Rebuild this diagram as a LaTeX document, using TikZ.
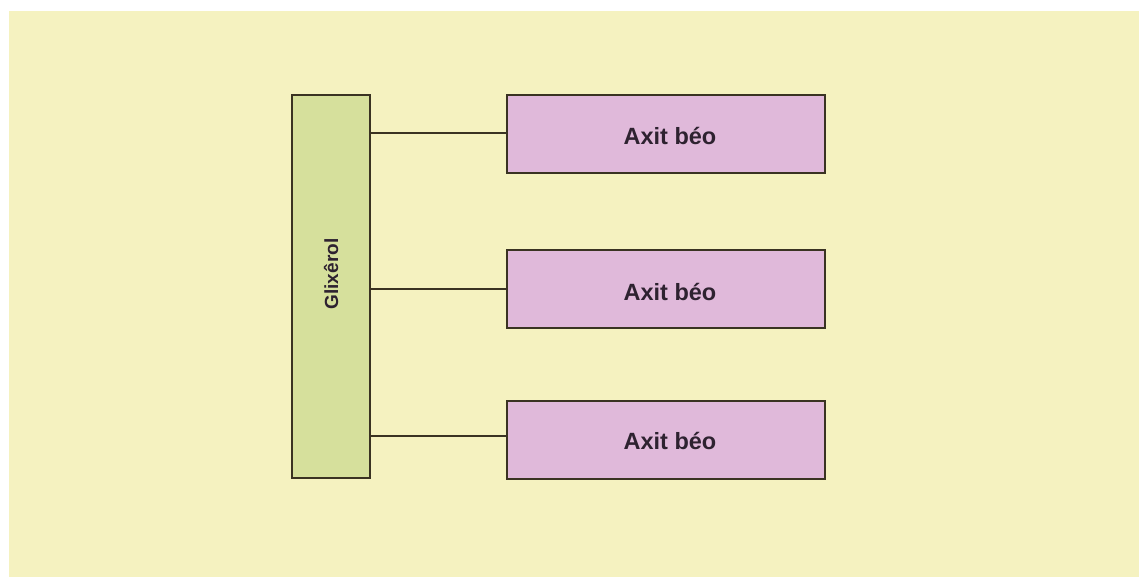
\documentclass[tikz,border=0pt]{standalone}
\usepackage{fontspec}
\setmainfont{Liberation Sans}
\definecolor{bgyellow}{HTML}{F5F2C0}
\definecolor{glyfill}{HTML}{D6E09C}
\definecolor{acidfill}{HTML}{E0B9DA}
\definecolor{edge}{HTML}{3A3322}
\definecolor{txt}{HTML}{2E2230}
\tikzset{
  x=1pt, y=-1pt,
  box/.style={draw=edge, line width=2.6pt, inner sep=0pt, text=txt},
  glybox/.style={box, fill=glyfill, minimum width=78pt, minimum height=383pt},
  acidbox/.style={box, fill=acidfill, minimum width=318pt, minimum height=78pt},
  acidtext/.style={text=txt, font=\bfseries\fontsize{23.5}{27}\selectfont},
  link/.style={draw=edge, line width=2.6pt}
}
\begin{document}
\begin{tikzpicture}
\useasboundingbox (0,0) rectangle (1139,577);
\fill[white] (0,0) rectangle (1139,577);
\fill[bgyellow] (9,11) rectangle (1139,577);

\node[glybox] (gly) at (331,286.5) {};
\node[rotate=90, text=txt, font=\bfseries\fontsize{19}{23}\selectfont] (glylabel) at (331,274) {Glixêrol};

\node[acidbox] (a1) at (666,134) {};
\node[acidbox] (a2) at (666,289) {};
\node[acidbox] (a3) at (666,440) {};
\node[acidtext] (t1) at (670,136) {Axit béo};
\node[acidtext] (t2) at (670,292) {Axit béo};
\node[acidtext] (t3) at (670,441) {Axit béo};

\coordinate (g1) at (gly.east |- 0,133);
\coordinate (g2) at (gly.east |- 0,289);
\coordinate (g3) at (gly.east |- 0,436);
\draw[link] (g1) -- (a1.west |- g1);
\draw[link] (g2) -- (a2.west |- g2);
\draw[link] (g3) -- (a3.west |- g3);
\end{tikzpicture}
\end{document}
